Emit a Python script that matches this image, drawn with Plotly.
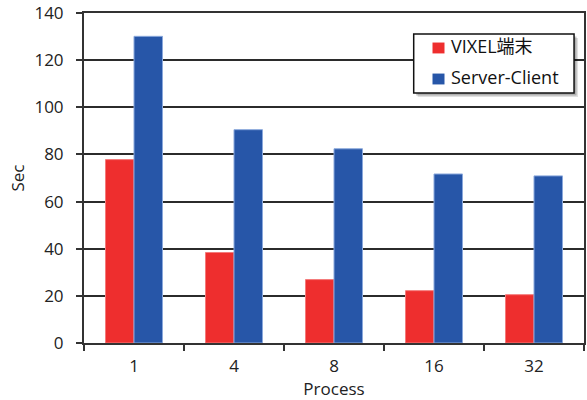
import plotly.graph_objects as go

processes = ["1", "4", "8", "16", "32"]
vixel_sec = [77.8, 38.4, 26.9, 22.2, 20.5]
server_client_sec = [130.1, 90.5, 82.4, 71.7, 70.9]
series_names = ["VIXEL端末", "Server-Client"]
series_colors = ["#EE2E2E", "#2756A8"]
edge_colors = ["#F47A7A", "#8AA8DC"]

FONT = "Open Sans, Noto Sans CJK JP, sans-serif"
TEXT = "#222222"
GRID = "#2b2b2b"

fig = go.Figure()
for name, vals, col, edge in zip(series_names, [vixel_sec, server_client_sec],
                                 series_colors, edge_colors):
    fig.add_trace(go.Bar(
        x=processes, y=vals, name=name, showlegend=False,
        marker=dict(color=col, line=dict(color=edge, width=1)),
    ))

# Framed legend with drop shadow, drawn in paper coordinates
box = dict(x0=0.6594, x1=0.9801, y0=0.7576, y1=0.9364)
for off, alpha in [(0.008, 0.12), (0.005, 0.22)]:
    fig.add_shape(type="rect", xref="paper", yref="paper",
                  x0=box["x0"] + off, x1=box["x1"] + off,
                  y0=box["y0"] - off * 1.5, y1=box["y1"] - off * 1.5,
                  fillcolor=f"rgba(0,0,0,{alpha})", line=dict(width=0),
                  layer="above")
fig.add_shape(type="rect", xref="paper", yref="paper", **box,
              fillcolor="white", line=dict(color="#111111", width=1.5),
              layer="above")

entry_y = [0.894, 0.800]
for name, col, yc in zip(series_names, series_colors, entry_y):
    fig.add_shape(type="rect", xref="paper", yref="paper",
                  x0=0.697, x1=0.721, y0=yc - 0.0165, y1=yc + 0.0165,
                  fillcolor=col, line=dict(width=0), layer="above")
    fig.add_annotation(xref="paper", yref="paper", x=0.729, y=yc + 0.005,
                       xanchor="left", yanchor="middle", showarrow=False,
                       text=name, font=dict(size=18, color="#111111"))

fig.update_layout(
    width=587, height=400,
    margin=dict(l=84, r=1, t=13, b=57),
    paper_bgcolor="white", plot_bgcolor="white",
    barmode="group", bargap=0.43, bargroupgap=0,
    font=dict(family=FONT, size=17, color=TEXT),
    showlegend=False,
    xaxis=dict(
        title=dict(text="Process", standoff=5, font=dict(size=17, color=TEXT)),
        tickson="boundaries", ticks="outside", ticklen=6,
        tickcolor="#333333", tickwidth=1.5, ticklabelstandoff=7,
        showline=True, linecolor="#333333", linewidth=2, mirror=True,
        showgrid=False,
    ),
    yaxis=dict(
        title=dict(text="Sec", standoff=5, font=dict(size=17, color=TEXT)),
        range=[0, 140], dtick=20,
        ticks="outside", ticklen=6, tickcolor="#333333", tickwidth=1.5,
        showline=True, linecolor="#333333", linewidth=2, mirror=True,
        showgrid=True, gridcolor=GRID, gridwidth=2,
        zeroline=False, ticklabelstandoff=9,
    ),
)

fig.write_html("out.html")
